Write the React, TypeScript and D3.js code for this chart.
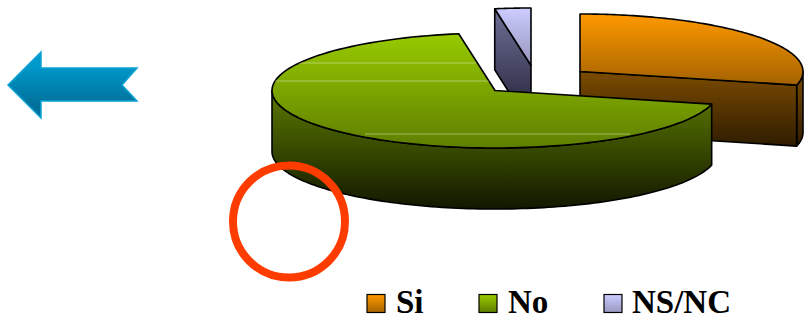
import React from "react";
import * as d3 from "d3";

// Survey answers, in percent
const categories = ["Si", "No", "NS/NC"];
const shares = [28.8, 68.6, 2.6];

// Exploded centre of each slice on the page
const centreX = [580, 495, 531];
const centreY = [71.5, 90.5, 65.5];
const radiusX = 223;
const radiusY = 57.5;
const depth = 61;

const palette = [
  { top: ["#ff9900", "#a36200"], wall: ["#7d4c00", "#2e1c00"], span: [14, 85, 71, 147], swatch: ["#ff9900", "#a86400"] },
  { top: ["#99cc00", "#5e7d00"], wall: ["#5c7a00", "#111700"], span: [32, 150, 90, 210], swatch: ["#99cc00", "#5e7d00"] },
  { top: ["#ccccff", "#9696bc"], wall: ["#6e6e94", "#33334d"], span: [8, 65, 10, 95], swatch: ["#ccccff", "#9898c0"] },
];
const legendX = [367, 479, 604];
const legendTextX = [396, 508, 632];
const drawOrder = [0, 2, 1];

// Pale banding streaks across the top of the large slice
const streaks = [
  { y: 63, x0: 296, x1: 476 },
  { y: 81, x0: 272, x1: 500 },
  { y: 134, x0: 365, x1: 630 },
];

const arrow: [number, number][] = [
  [8, 85], [41, 52], [41, 68], [137, 68], [122, 85], [137, 101], [41, 101], [41, 118],
];

const slices = d3.pie<number>().sort(null)(shares);
const unitX = d3.scaleLinear().domain([-1, 1]).range([-radiusX, radiusX]);
const unitY = d3.scaleLinear().domain([-1, 1]).range([-radiusY, radiusY]);
const trace = d3.line<[number, number]>();

const project = (i: number, angle: number, drop = 0): [number, number] => [
  centreX[i] + unitX(Math.sin(angle)),
  centreY[i] - unitY(Math.cos(angle)) + drop,
];

const rim = (i: number, a0: number, a1: number, drop = 0) =>
  d3.range(0, 121).map((k) => project(i, a0 + ((a1 - a0) * k) / 120, drop));

const topFace = (i: number) => {
  const s = slices[i];
  const apex: [number, number] = [centreX[i], centreY[i]];
  return trace([apex, ...rim(i, s.startAngle, s.endAngle), apex]) + "Z";
};

const outerWall = (i: number) => {
  const a0 = Math.max(slices[i].startAngle, Math.PI / 2);
  const a1 = Math.min(slices[i].endAngle, (3 * Math.PI) / 2);
  if (a1 <= a0) return null;
  return trace([...rim(i, a0, a1), ...rim(i, a0, a1, depth).reverse()]) + "Z";
};

const cutFace = (i: number, angle: number) => {
  const p = project(i, angle);
  const apex: [number, number] = [centreX[i], centreY[i]];
  return trace([apex, p, [p[0], p[1] + depth], [apex[0], apex[1] + depth]]) + "Z";
};

const isFacing = (normal: number) => Math.cos(normal) < -0.01;

export default function App() {
  return (
    <svg
      width={805}
      height={321}
      viewBox="0 0 805 321"
      style={{ position: "absolute", left: 0, top: 0, background: "#fff" }}
    >
      <defs>
        {palette.map((c, i) => (
          <React.Fragment key={i}>
            <linearGradient id={`top${i}`} gradientUnits="userSpaceOnUse" x1={0} x2={0} y1={c.span[0]} y2={c.span[1]}>
              <stop offset="0" stopColor={c.top[0]} />
              <stop offset="1" stopColor={c.top[1]} />
            </linearGradient>
            <linearGradient id={`wall${i}`} gradientUnits="userSpaceOnUse" x1={0} x2={0} y1={c.span[2]} y2={c.span[3]}>
              <stop offset="0" stopColor={c.wall[0]} />
              <stop offset="1" stopColor={c.wall[1]} />
            </linearGradient>
            <linearGradient id={`swatch${i}`} x1={0} x2={0} y1={0} y2={1}>
              <stop offset="0" stopColor={c.swatch[0]} />
              <stop offset="1" stopColor={c.swatch[1]} />
            </linearGradient>
          </React.Fragment>
        ))}
        <linearGradient id="arrowFill" x1={0} x2={0} y1={0} y2={1}>
          <stop offset="0.2" stopColor="#0099cc" />
          <stop offset="0.8" stopColor="#00719a" />
        </linearGradient>
        <clipPath id="noClip">
          <path d={topFace(1)} />
        </clipPath>
      </defs>

      <path d={trace(arrow) + "Z"} fill="url(#arrowFill)" stroke="#0aa3d6" strokeWidth={1.5} />

      {drawOrder.map((i) => {
        const s = slices[i];
        const wall = outerWall(i);
        const common = { stroke: "#000", strokeWidth: 1.6, strokeLinejoin: "round" as const };
        return (
          <g key={categories[i]}>
            {wall && <path d={wall} fill={`url(#wall${i})`} {...common} />}
            {isFacing(s.startAngle - Math.PI / 2) && (
              <path d={cutFace(i, s.startAngle)} fill={`url(#wall${i})`} {...common} />
            )}
            {isFacing(s.endAngle + Math.PI / 2) && (
              <path d={cutFace(i, s.endAngle)} fill={`url(#wall${i})`} {...common} />
            )}
            <path d={topFace(i)} fill={`url(#top${i})`} {...common} />
          </g>
        );
      })}

      <g clipPath="url(#noClip)">
        {streaks.map((l) => (
          <line key={l.y} x1={l.x0} x2={l.x1} y1={l.y} y2={l.y} stroke="#fff" strokeOpacity={0.4} strokeWidth={1} />
        ))}
      </g>

      <circle cx={289} cy={221.5} r={56} fill="none" stroke="#ff3c00" strokeWidth={8} />

      {categories.map((name, i) => (
        <g key={name}>
          <rect
            x={legendX[i]}
            y={294.5}
            width={18}
            height={18}
            fill={`url(#swatch${i})`}
            stroke="#000"
            strokeWidth={1.2}
          />
          <text
            x={legendTextX[i]}
            y={313}
            fontFamily="'Liberation Serif', serif"
            fontWeight="bold"
            fontSize={33}
            fill="#000"
          >
            {name}
          </text>
        </g>
      ))}
    </svg>
  );
}
